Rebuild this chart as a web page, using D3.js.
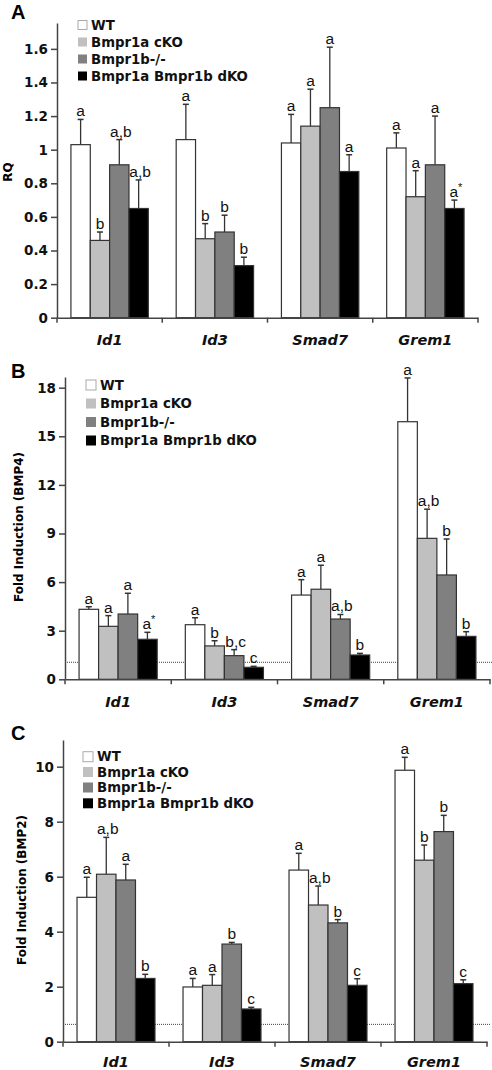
<!DOCTYPE html>
<html>
<head>
<meta charset="utf-8">
<script src="https://cdn.jsdelivr.net/npm/d3@7"></script>
<style>
  html, body { margin: 0; padding: 0; background: #fff; }
  svg { display: block; }
</style>
</head>
<body>
<svg id="chart" width="492" height="1070"></svg>
<script>
// ---------- DATA ----------
const genes = ["Id1", "Id3", "Smad7", "Grem1"];
const groups = ["WT", "Bmpr1a cKO", "Bmpr1b-/-", "Bmpr1a Bmpr1b dKO"];

// Panel A: RQ
const rqMean = [[1.03, 0.46, 0.91, 0.65], [1.06, 0.47, 0.51, 0.31], [1.04, 1.14, 1.25, 0.87], [1.01, 0.72, 0.91, 0.65]];
const rqErr = [[0.15, 0.05, 0.15, 0.17], [0.21, 0.09, 0.10, 0.05], [0.17, 0.22, 0.36, 0.10], [0.09, 0.155, 0.29, 0.05]];
const rqLetters = [["a", "b", "a,b", "a,b"], ["a", "b", "b", "b"], ["a", "a", "a", "a"], ["a", "a", "a", "a*"]];
const rqTicks = [0, 0.2, 0.4, 0.6, 0.8, 1, 1.2, 1.4, 1.6];

// Panel B: Fold induction (BMP4)
const bmp4Mean = [[4.32, 3.27, 4.03, 2.47], [3.37, 2.06, 1.46, 0.74], [5.2, 5.56, 3.72, 1.5], [15.9, 8.7, 6.44, 2.65]];
const bmp4Err = [[0.16, 0.66, 1.28, 0.43], [0.43, 0.32, 0.37, 0.06], [0.95, 1.48, 0.28, 0.1], [2.7, 1.8, 2.22, 0.29]];
const bmp4Letters = [["a", "a", "a", "a*"], ["a", "b", "b,c", "c"], ["a", "a", "a,b", "b"], ["a", "a,b", "b", "b"]];
const bmp4Ticks = [0, 3, 6, 9, 12, 15, 18];
const bmp4Baseline = 1.05;

// Panel C: Fold induction (BMP2)
const bmp2Mean = [[5.25, 6.09, 5.88, 2.3], [1.99, 2.05, 3.55, 1.19], [6.24, 4.97, 4.32, 2.05], [9.87, 6.6, 7.64, 2.11]];
const bmp2Err = [[0.73, 1.34, 0.57, 0.15], [0.31, 0.39, 0.06, 0.06], [0.61, 0.69, 0.12, 0.24], [0.47, 0.55, 0.59, 0.14]];
const bmp2Letters = [["a", "a,b", "a", "b"], ["a", "a", "b", "c"], ["a", "a,b", "b", "c"], ["a", "b", "b", "c"]];
const bmp2Ticks = [0, 2, 4, 6, 8, 10];
const bmp2Baseline = 0.63;

// ---------- STYLE ----------
const fills = ["#ffffff", "#c0c0c0", "#808080", "#000000"];
const ink = "#333";
const boldFont = "'DejaVu Sans', Verdana, sans-serif";
const letterFont = "'Liberation Sans', Arial, sans-serif";

const svg = d3.select("#chart");

function drawPanel(cfg) {
  const g = svg.append("g");
  const y = d3.scaleLinear().domain([0, cfg.yMax]).range([cfg.yZero, cfg.yTop]);
  const x0 = d3.scaleBand().domain(genes).range([cfg.xLeft, cfg.xRight]).padding(0);
  const x1 = d3.scaleBand().domain(groups).range([0, x0.bandwidth()]).paddingInner(0).paddingOuter(0.72);

  // panel letter
  g.append("text").attr("x", 11).attr("y", cfg.letterY)
    .attr("font-family", letterFont).attr("font-weight", "bold").attr("font-size", 20)
    .text(cfg.letter);

  // y title
  g.append("text")
    .attr("transform", `translate(${cfg.titleX},${cfg.titleY}) rotate(-90)`)
    .attr("text-anchor", "middle").attr("dominant-baseline", "middle")
    .attr("font-family", boldFont).attr("font-weight", "bold").attr("font-size", 12)
    .text(cfg.title);

  // dotted baseline
  if (cfg.baseline != null) {
    g.append("line")
      .attr("x1", cfg.xLeft).attr("x2", cfg.xRight + 4)
      .attr("y1", y(cfg.baseline)).attr("y2", y(cfg.baseline))
      .attr("stroke", "#444").attr("stroke-width", 1).attr("stroke-dasharray", "1,1");
  }

  // bars
  const gg = g.selectAll("g.gene").data(genes).join("g")
    .attr("transform", d => `translate(${x0(d)},0)`);
  gg.each(function (gene, gi) {
    const sel = d3.select(this);
    groups.forEach((grp, k) => {
      const v = cfg.mean[gi][k];
      const e = cfg.err[gi][k];
      const cx = x1(grp) + x1.bandwidth() / 2;
      sel.append("line").attr("x1", cx).attr("x2", cx)
        .attr("y1", y(v)).attr("y2", y(v + e))
        .attr("stroke", ink).attr("stroke-width", 1.3);
      sel.append("line").attr("x1", cx - 3).attr("x2", cx + 3)
        .attr("y1", y(v + e)).attr("y2", y(v + e))
        .attr("stroke", ink).attr("stroke-width", 1.5);
    });
    groups.forEach((grp, k) => {
      const v = cfg.mean[gi][k];
      sel.append("rect")
        .attr("x", x1(grp)).attr("width", x1.bandwidth())
        .attr("y", y(v)).attr("height", y(0) - y(v))
        .attr("fill", fills[k]).attr("stroke", ink).attr("stroke-width", 1.2);
    });
    groups.forEach((grp, k) => {
      const v = cfg.mean[gi][k];
      const e = cfg.err[gi][k];
      const cx = x1(grp) + x1.bandwidth() / 2;
      const lab = cfg.letters[gi][k];
      const t = sel.append("text").attr("x", cx + (lab.length > 1 ? 1.5 : 0)).attr("y", y(v + e) - 3)
        .attr("text-anchor", "middle")
        .attr("font-family", letterFont).attr("font-size", 15.5).attr("fill", "#111");
      if (lab.endsWith("*")) {
        t.text(lab.slice(0, -1));
        t.append("tspan").attr("font-size", 11).attr("dy", -6).text("*");
      } else {
        t.text(lab);
      }
    });
  });

  // y axis
  const yAxis = d3.axisLeft(y).tickValues(cfg.ticks).tickSize(6).tickSizeOuter(0).tickPadding(3)
    .tickFormat(d3.format("~g"));
  const ya = g.append("g").attr("transform", `translate(${cfg.xLeft},0)`).call(yAxis);
  ya.selectAll("path, line").attr("stroke", "#444").attr("stroke-width", 1.5);
  ya.selectAll("text").attr("font-family", boldFont).attr("font-weight", "bold")
    .attr("font-size", 13.5).attr("fill", "#111");

  // x axis (category labels)
  const xAxis = d3.axisBottom(x0).tickSize(0).tickSizeOuter(0).tickPadding(cfg.labelPad);
  const xa = g.append("g").attr("transform", `translate(0,${cfg.yZero})`).call(xAxis);
  xa.select("path").attr("stroke", "#444").attr("stroke-width", 1.5);
  xa.selectAll("text").attr("font-family", boldFont).attr("font-weight", "bold")
    .attr("font-style", "italic").attr("font-size", 14.5).attr("fill", "#111");
  // boundary ticks
  const bounds = [cfg.xLeft].concat(genes.map(d => x0(d) + x0.bandwidth()));
  g.selectAll("line.bt").data(bounds).join("line")
    .attr("x1", d => d).attr("x2", d => d)
    .attr("y1", cfg.yZero).attr("y2", cfg.yZero + 5)
    .attr("stroke", "#444").attr("stroke-width", 1.5);

  // legend
  const lg = g.append("g");
  groups.forEach((grp, k) => {
    const cy = cfg.legY[k];
    lg.append("rect").attr("x", cfg.legX).attr("y", cy - cfg.legSq / 2)
      .attr("width", cfg.legSq).attr("height", cfg.legSq)
      .attr("fill", fills[k]).attr("stroke", k === 0 ? "#aaa" : "none").attr("stroke-width", 1);
    lg.append("text").attr("x", cfg.legX + cfg.legSq + 4).attr("y", cy)
      .attr("dominant-baseline", "central")
      .attr("font-family", boldFont).attr("font-weight", "bold").attr("font-size", 13.3).attr("fill", "#111")
      .text(grp);
  });
}

drawPanel({
  letter: "A", letterY: 19, title: "RQ", titleX: 8, titleY: 172,
  mean: rqMean, err: rqErr, letters: rqLetters, ticks: rqTicks, baseline: null,
  xLeft: 57, xRight: 478, yZero: 317.7, yTop: 23, yMax: 1.754, labelPad: 17,
  legX: 78, legSq: 9, legY: [25, 42, 59, 76]
});
drawPanel({
  letter: "B", letterY: 378, title: "Fold Induction (BMP4)", titleX: 19, titleY: 527,
  mean: bmp4Mean, err: bmp4Err, letters: bmp4Letters, ticks: bmp4Ticks, baseline: bmp4Baseline,
  xLeft: 65, xRight: 490, yZero: 679.3, yTop: 377, yMax: 18.66, labelPad: 17,
  legX: 86, legSq: 10, legY: [385, 403.5, 422, 440.5]
});
drawPanel({
  letter: "C", letterY: 740, title: "Fold Induction (BMP2)", titleX: 22, titleY: 890,
  mean: bmp2Mean, err: bmp2Err, letters: bmp2Letters, ticks: bmp2Ticks, baseline: bmp2Baseline,
  xLeft: 63, xRight: 487, yZero: 1041.7, yTop: 740, yMax: 10.97, labelPad: 15,
  legX: 83, legSq: 10, legY: [756.7, 772, 787.5, 803.3]
});
</script>
</body>
</html>
